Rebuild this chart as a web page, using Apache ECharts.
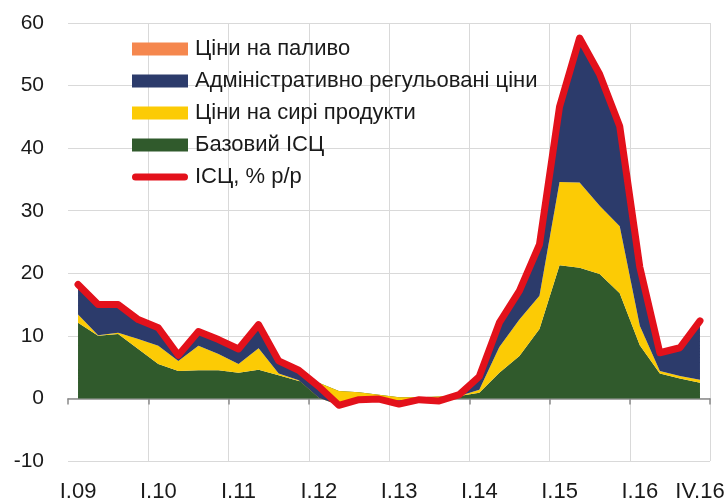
<!DOCTYPE html>
<html>
<head>
<meta charset="utf-8">
<script src="https://cdn.jsdelivr.net/npm/echarts@6/dist/echarts.min.js"></script>
<style>
html,body{margin:0;padding:0;background:#fff;}
#chart{width:728px;height:503px;}
</style>
</head>
<body>
<div id="chart"></div>
<script>
const categories = [
  'I.09','II.09','III.09','IV.09',
  'I.10','II.10','III.10','IV.10',
  'I.11','II.11','III.11','IV.11',
  'I.12','II.12','III.12','IV.12',
  'I.13','II.13','III.13','IV.13',
  'I.14','II.14','III.14','IV.14',
  'I.15','II.15','III.15','IV.15',
  'I.16','II.16','III.16','IV.16'
];
// contributions, percentage points
const baseCPI = [12.1,10.0,10.3,7.9, 5.5,4.4,4.5,4.5, 4.1,4.6,3.7,2.8, 2.5,1.2,1.0,0.6, 0.2,0.2,0.3,0.4, 0.9,4.1,6.8,11.1, 21.3,20.9,19.9,16.8, 8.5,4.0,3.2,2.5];
const rawFood = [1.3,0.1,0.2,1.6, 2.9,1.6,3.9,2.6, 1.4,3.4,0.3,0.1, -2.4,-2.3,-1.3,-0.9, -0.5,-0.3,-0.4,0.0, 0.5,4.1,5.8,5.3, 13.3,13.6,10.9,10.7, 3.1,0.4,0.4,0.5];
const adminPrices = [4.6,4.8,4.4,2.9, 2.6,0.6,1.9,2.0, 2.0,3.4,1.8,1.4, 1.7,0.1,0.2,0.2, -0.8,-0.2,-0.4,0.1, 1.8,3.6,4.4,7.9, 11.6,22.7,20.8,15.7, 9.2,2.6,4.3,9.2];
const fuelPrices = [0.1,0.1,0.1,0.1, 0.2,0.2,0.2,0.2, 0.2,0.3,0.2,0.2, 0.1,-0.1,-0.1,0.0, 0.3,0.1,0.1,0.1, 0.2,0.2,0.2,0.3, 0.3,0.3,0.2,0.2, 0.2,0.2,0.2,0.2];
const cpiYoY = [18.2,15.0,15.0,12.6, 11.3,6.9,10.7,9.4, 7.9,11.8,6.0,4.5, 1.9,-1.1,-0.2,-0.1, -0.9,-0.2,-0.4,0.6, 3.5,12.1,17.2,24.6, 46.6,57.6,51.8,43.5, 21.0,7.3,8.1,12.4];
const yTicks = {min: -10, max: 60, step: 10};
const labelIdx = [0,4,8,12,16,20,24,28,31];

const FONT = '"Liberation Sans", Arial, sans-serif';
const names = {
  fuel: 'Ціни на паливо',
  admin: 'Адміністративно регульовані ціни',
  raw: 'Ціни на сирі продукти',
  base: 'Базовий ІСЦ',
  cpi: 'ІСЦ, % р/р'
};

function areaSeries(name, data, color) {
  return {
    name: name, type: 'line', data: data,
    stack: 'total', stackStrategy: 'all',
    symbol: 'none', showSymbol: false,
    lineStyle: {width: 0, color: color},
    itemStyle: {color: color},
    areaStyle: {color: color, opacity: 1},
    emphasis: {disabled: true}
  };
}

const chart = echarts.init(document.getElementById('chart'), null, {renderer: 'canvas'});
chart.setOption({
  animation: false,
  backgroundColor: '#ffffff',
  grid: {left: 68, right: 18, top: 23, bottom: 42, containLabel: false},
  legend: {
    orient: 'vertical', left: 127, top: 33,
    itemWidth: 56, itemHeight: 13, itemGap: 10,
    textStyle: {fontFamily: FONT, fontSize: 22, color: '#1a1a1a', lineHeight: 22, padding: [0, 0, 0, 2]},
    data: [
      {name: names.fuel, icon: 'rect'},
      {name: names.admin, icon: 'rect'},
      {name: names.raw, icon: 'rect'},
      {name: names.base, icon: 'rect'},
      {name: names.cpi, icon: 'path://M3.5,0 L52.5,0 A3.5,3.5 0 0 1 52.5,7 L3.5,7 A3.5,3.5 0 0 1 3.5,0 Z'}
    ],
    selectedMode: false
  },
  xAxis: [
    {
      type: 'category', data: categories, boundaryGap: true, position: 'bottom',
      axisLine: {show: false, onZero: false},
      axisTick: {show: false},
      axisLabel: {
        interval: function (i) { return labelIdx.indexOf(i) >= 0; },
        margin: 20, fontFamily: FONT, fontSize: 22, color: '#1a1a1a'
      },
      splitLine: {
        show: true,
        interval: function (i) { return i % 4 === 0 && i !== 0; },
        lineStyle: {color: '#d9d9d9', width: 1}
      }
    },
    {
      type: 'category', data: categories, boundaryGap: true, position: 'bottom',
      axisLine: {show: true, onZero: true, lineStyle: {color: '#8a8a8a', width: 1.5}},
      axisTick: {show: true, interval: 3, length: 6, lineStyle: {color: '#8a8a8a', width: 1.5}},
      axisLabel: {show: false},
      splitLine: {show: false}
    }
  ],
  yAxis: {
    type: 'value', min: yTicks.min, max: yTicks.max, interval: yTicks.step,
    axisLine: {show: false}, axisTick: {show: false},
    axisLabel: {margin: 24, fontFamily: FONT, fontSize: 21, color: '#1a1a1a'},
    splitLine: {show: true, lineStyle: {color: '#d9d9d9', width: 1}}
  },
  series: [
    areaSeries(names.base, baseCPI, '#305a2c'),
    areaSeries(names.raw, rawFood, '#fccb05'),
    areaSeries(names.admin, adminPrices, '#2c3b6b'),
    areaSeries(names.fuel, fuelPrices, '#f5874e'),
    {
      name: names.cpi, type: 'line', data: cpiYoY,
      symbol: 'none', showSymbol: false, z: 5,
      lineStyle: {color: '#e3111b', width: 7, join: 'round', cap: 'round'},
      itemStyle: {color: '#e3111b'},
      emphasis: {disabled: true}
    }
  ]
});
</script>
</body>
</html>
